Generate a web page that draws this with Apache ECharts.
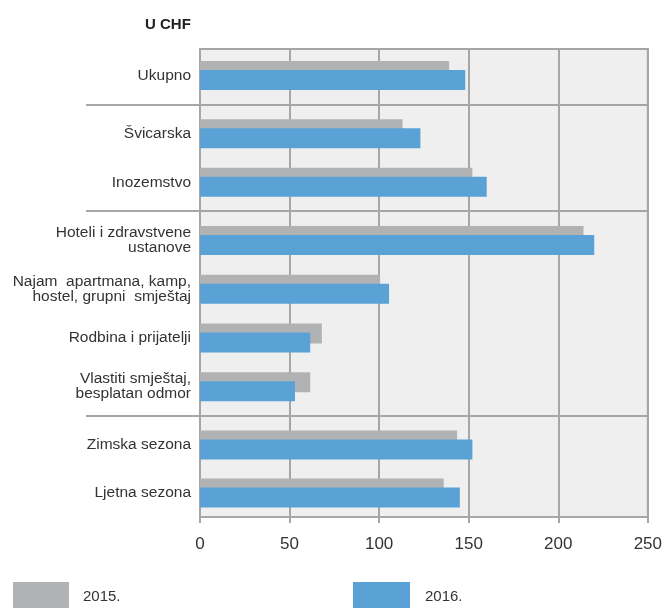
<!DOCTYPE html>
<html>
<head>
<meta charset="utf-8">
<script src="https://cdn.jsdelivr.net/npm/echarts@6/dist/echarts.min.js"></script>
<style>
html,body{margin:0;padding:0;background:#fff;}
#chart{width:665px;height:608px;}
</style>
</head>
<body>
<div id="chart"></div>
<script>
// ---- data ----
var categories = [
  'Ukupno',
  'Švicarska',
  'Inozemstvo',
  'Hoteli i zdravstvene\nustanove',
  'Najam  apartmana, kamp,\nhostel, grupni  smještaj',
  'Rodbina i prijatelji',
  'Vlastiti smještaj,\nbesplatan odmor',
  'Zimska sezona',
  'Ljetna sezona'
];
var groupSizes = [1, 2, 4, 2];
var values2015 = [139, 113, 152, 214, 100.5, 68, 61.5, 143.5, 136];
var values2016 = [148, 123, 160, 220, 105.5, 61.5, 53, 152, 145];
var seriesNames = ['2015.', '2016.'];
var xTicks = [0, 50, 100, 150, 200, 250];
var titleText = 'U CHF';

// ---- layout / style ----
var PLOT_LEFT = 200, PLOT_WIDTH = 448, PLOT_TOP = 49, PLOT_BOTTOM = 517;
var groupLayout = [ {top: 51, height: 49}, {top: 109.5, height: 97}, {top: 216, height: 195}, {top: 421, height: 96} ];
var GRID_COLOR = '#a6a6a6';
var GRAY = '#b1b2b4', BLUE = '#5aa2d6';
var FONT = '"Liberation Sans", Arial, sans-serif';

var chart = echarts.init(document.getElementById('chart'), null, {renderer: 'canvas'});

var grids = [{
  left: PLOT_LEFT, width: PLOT_WIDTH, top: PLOT_TOP, height: PLOT_BOTTOM - PLOT_TOP,
  show: true, backgroundColor: '#efefef', borderColor: GRID_COLOR, borderWidth: 2
}];
var xAxes = [{
  gridIndex: 0, type: 'value', min: xTicks[0], max: xTicks[xTicks.length - 1],
  interval: xTicks[1] - xTicks[0],
  axisLine: {show: true, lineStyle: {color: GRID_COLOR, width: 2}},
  axisTick: {show: true, length: 6, lineStyle: {color: GRID_COLOR, width: 2}},
  splitLine: {show: true, lineStyle: {color: GRID_COLOR, width: 2}},
  axisLabel: {color: '#333', fontSize: 17, fontFamily: FONT, margin: 19}
}];
var yAxes = [{gridIndex: 0, type: 'value', show: false, min: 0, max: 1}];
var series = [];
var graphics = [];

var start = 0;
groupSizes.forEach(function (n, gi) {
  var idx = gi + 1;
  var L = groupLayout[gi];
  grids.push({left: PLOT_LEFT, width: PLOT_WIDTH, top: L.top, height: L.height, show: false});
  xAxes.push({gridIndex: idx, type: 'value', min: xTicks[0], max: xTicks[xTicks.length - 1], show: false});
  yAxes.push({
    gridIndex: idx, type: 'category', inverse: true,
    data: categories.slice(start, start + n),
    axisLine: {show: false}, axisTick: {show: false},
    axisLabel: {color: '#333', fontSize: 15.5, fontFamily: FONT, margin: 9, lineHeight: 15, align: 'right'}
  });
  series.push({
    name: seriesNames[0], type: 'bar', xAxisIndex: idx, yAxisIndex: idx,
    data: values2015.slice(start, start + n), barWidth: 20, barGap: '-55%',
    itemStyle: {color: GRAY}, silent: true
  });
  series.push({
    name: seriesNames[1], type: 'bar', xAxisIndex: idx, yAxisIndex: idx,
    data: values2016.slice(start, start + n), barWidth: 20, barGap: '-55%',
    itemStyle: {color: BLUE}, silent: true
  });
  if (gi > 0) {
    var prev = groupLayout[gi - 1];
    var y = Math.round((prev.top + prev.height + L.top) / 2);
    graphics.push({
      type: 'line', z: 10,
      shape: {x1: 86, y1: y, x2: PLOT_LEFT + PLOT_WIDTH, y2: y},
      style: {stroke: GRID_COLOR, lineWidth: 2}
    });
  }
  start += n;
});

var option = {
  animation: false,
  title: {
    text: titleText, left: 145, top: 17, padding: 0,
    textStyle: {fontSize: 15, fontWeight: 'bold', color: '#222', fontFamily: FONT}
  },
  legend: [
    {data: [seriesNames[0]], left: 13, top: 582, itemWidth: 56, itemHeight: 30, selectedMode: false,
     icon: 'rect', padding: 0,
     textStyle: {fontSize: 15, color: '#333', fontFamily: FONT, padding: [0, 0, 0, 9]}},
    {data: [seriesNames[1]], left: 353, top: 582, itemWidth: 57, itemHeight: 30, selectedMode: false,
     icon: 'rect', padding: 0,
     textStyle: {fontSize: 15, color: '#333', fontFamily: FONT, padding: [0, 0, 0, 10]}}
  ],
  grid: grids,
  xAxis: xAxes,
  yAxis: yAxes,
  series: series,
  graphic: graphics
};
chart.setOption(option);
</script>
</body>
</html>
